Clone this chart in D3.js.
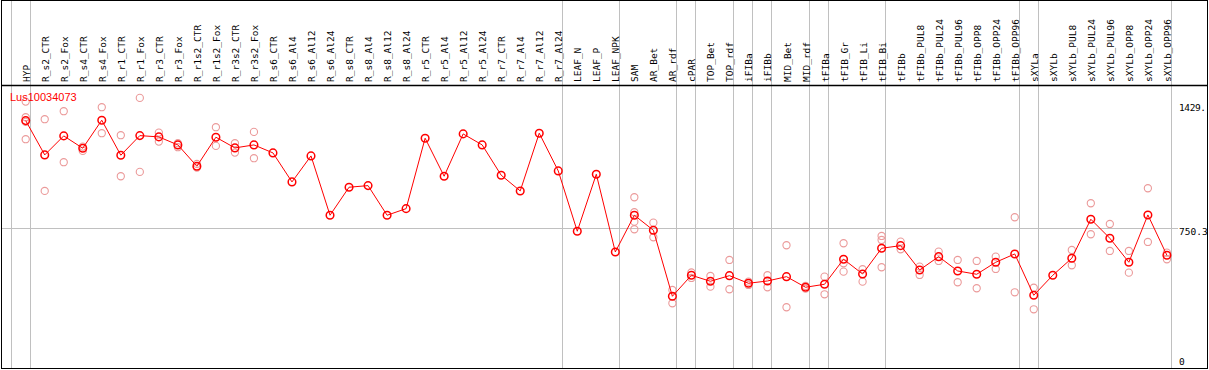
<!DOCTYPE html>
<html>
<head>
<meta charset="utf-8">
<script src="https://cdn.jsdelivr.net/npm/d3@7"></script>
<style>
  body { margin: 0; background: #fff; }
  svg { display: block; }
</style>
</head>
<body>
<div class="container"></div>
<script>
const title = "Lus10034073";

const categories = [
  "HYP", "R_s2_CTR", "R_s2_Fox", "R_s4_CTR", "R_s4_Fox", "R_r1_CTR", "R_r1_Fox",
  "R_r3_CTR", "R_r3_Fox", "R_r1s2_CTR", "R_r1s2_Fox", "R_r3s2_CTR", "R_r3s2_Fox",
  "R_s6_CTR", "R_s6_Al4", "R_s6_Al12", "R_s6_Al24", "R_s8_CTR", "R_s8_Al4",
  "R_s8_Al12", "R_s8_Al24", "R_r5_CTR", "R_r5_Al4", "R_r5_Al12", "R_r5_Al24",
  "R_r7_CTR", "R_r7_Al4", "R_r7_Al12", "R_r7_Al24", "LEAF_N", "LEAF_P", "LEAF_NPK",
  "SAM", "AR_Bet", "AR_rdf", "cPAR", "TOP_Bet", "TOP_rdf", "iFIBa", "iFIBb",
  "MID_Bet", "MID_rdf", "tFIBa", "tFIB_Gr", "tFIB_Li", "tFIB_Bi", "tFIBb",
  "tFIBb_PUL8", "tFIBb_PUL24", "tFIBb_PUL96", "tFIBb_OPP8", "tFIBb_OPP24", "tFIBb_OPP96",
  "sXYLa", "sXYLb", "sXYLb_PUL8", "sXYLb_PUL24", "sXYLb_PUL96", "sXYLb_OPP8",
  "sXYLb_OPP24", "sXYLb_OPP96"
];

// group dividers are drawn after these samples
const groupEnds = [
  "HYP", "R_r7_Al24", "LEAF_NPK", "AR_rdf", "cPAR", "TOP_rdf", "iFIBa", "iFIBb",
  "MID_rdf", "tFIBa", "tFIB_Bi", "tFIBb_OPP96", "sXYLa", "sXYLb_OPP96"
];

// mean expression per sample
const means = [
  1373.5, 1174.4, 1284.7, 1213.3, 1375.8, 1172.6, 1286.4, 1278.9, 1232.4, 1108.8,
  1277.1, 1215.0, 1232.4, 1186.0, 1017.7, 1168.6, 824.3, 986.9, 996.2, 824.3,
  862.7, 1271.3, 1050.7, 1296.3, 1232.4, 1056.5, 965.4, 1300.4, 1081.5, 731.5,
  1062.4, 611.3, 824.3, 737.3, 354.1, 476.0, 441.2, 473.7, 429.6, 442.9,
  467.9, 406.4, 423.8, 568.9, 483.6, 632.8, 647.9, 506.8, 584.0, 501.0,
  481.8, 551.5, 599.7, 359.9, 476.0, 574.7, 801.1, 690.8, 551.5, 826.1,
  592.1
];

// individual replicates: [sample, value]
const replicates = [
  ["HYP", 1483.8], ["HYP", 1393.2], ["HYP", 1366.0], ["HYP", 1265.5],
  ["R_s2_CTR", 1381.6], ["R_s2_CTR", 965.4],
  ["R_s2_Fox", 1428.1], ["R_s2_Fox", 1132.0],
  ["R_s4_CTR", 1222.6], ["R_s4_CTR", 1197.6],
  ["R_s4_Fox", 1451.3], ["R_s4_Fox", 1300.4],
  ["R_r1_CTR", 1288.8], ["R_r1_CTR", 1050.7],
  ["R_r1_Fox", 1505.3], ["R_r1_Fox", 1075.7],
  ["R_r3_CTR", 1303.9], ["R_r3_CTR", 1251.6],
  ["R_r3_Fox", 1242.3], ["R_r3_Fox", 1219.1],
  ["R_r1s2_CTR", 1122.1], ["R_r1s2_CTR", 1100.7],
  ["R_r1s2_Fox", 1335.2], ["R_r1s2_Fox", 1226.6],
  ["R_r3s2_CTR", 1242.3], ["R_r3s2_CTR", 1187.7],
  ["R_r3s2_Fox", 1307.9], ["R_r3s2_Fox", 1155.2],
  ["SAM", 928.8], ["SAM", 841.8], ["SAM", 787.2], ["SAM", 743.1],
  ["AR_Bet", 781.4], ["AR_Bet", 696.6],
  ["AR_rdf", 390.7], ["AR_rdf", 313.5],
  ["cPAR", 492.3], ["cPAR", 460.4],
  ["TOP_Bet", 472.0], ["TOP_Bet", 409.8],
  ["TOP_rdf", 564.8], ["TOP_rdf", 394.8],
  ["iFIBa", 438.9], ["iFIBa", 419.7],
  ["iFIBb", 476.0], ["iFIBb", 406.4],
  ["MID_Bet", 650.2], ["MID_Bet", 290.3],
  ["MID_rdf", 413.9], ["MID_rdf", 398.2],
  ["tFIBa", 467.9], ["tFIBa", 365.7],
  ["tFIB_Gr", 661.8], ["tFIB_Gr", 545.7], ["tFIB_Gr", 496.9],
  ["tFIB_Li", 510.9], ["tFIB_Li", 438.9],
  ["tFIB_Bi", 704.2], ["tFIB_Bi", 681.0], ["tFIB_Bi", 522.5],
  ["tFIBb", 671.1], ["tFIBb", 627.0],
  ["tFIBb_PUL8", 526.0], ["tFIBb_PUL8", 477.8],
  ["tFIBb_PUL24", 613.0], ["tFIBb_PUL24", 559.0],
  ["tFIBb_PUL96", 564.8], ["tFIBb_PUL96", 435.4],
  ["tFIBb_OPP8", 559.0], ["tFIBb_OPP8", 400.6],
  ["tFIBb_OPP24", 584.0], ["tFIBb_OPP24", 512.6],
  ["tFIBb_OPP96", 812.7], ["tFIBb_OPP96", 377.3],
  ["sXYLa", 404.0], ["sXYLa", 278.6],
  ["sXYLb_PUL8", 622.9], ["sXYLb_PUL8", 534.1],
  ["sXYLb_PUL24", 894.0], ["sXYLb_PUL24", 714.0],
  ["sXYLb_PUL96", 773.8], ["sXYLb_PUL96", 617.1],
  ["sXYLb_OPP8", 617.1], ["sXYLb_OPP8", 491.1],
  ["sXYLb_OPP24", 981.1], ["sXYLb_OPP24", 669.3],
  ["sXYLb_OPP96", 607.2], ["sXYLb_OPP96", 568.9]
];

const tickValues = [0, 750.3, 1429.1];
const tickLabels = ["0", "750.3", "1429."];

const width = 1209;
const height = 370;
const headerH = 85;
const gridColor = "#c0c0c0";
const red = "#ff0000";
const pink = "#eb9a9a";

let svg = d3.select(".container")
  .append("svg")
  .attr("width", width)
  .attr("height", height);

const x = d3.scaleBand()
  .domain(categories)
  .range([10.5, 10.5 + categories.length * 19.02])
  .padding(0);
const px = d => x(d) + 15.2;

const y = d3.scaleLinear()
  .domain([0, 750.3])
  .range([357.3, 228]);

// dividers between sample groups
svg.append("g")
  .selectAll("line")
  .data([categories[0]].concat(groupEnds))
  .enter()
  .append("line")
  .attr("x1", (d, i) => Math.round(i === 0 ? x(d) : x(d) + x.bandwidth()) + 0.5)
  .attr("x2", (d, i) => Math.round(i === 0 ? x(d) : x(d) + x.bandwidth()) + 0.5)
  .attr("y1", 0)
  .attr("y2", 369)
  .attr("stroke", gridColor)
  .attr("stroke-width", 1);

// middle grid line
svg.append("line")
  .attr("x1", 1)
  .attr("x2", 1178)
  .attr("y1", Math.round(y(750.3)) + 0.5)
  .attr("y2", Math.round(y(750.3)) + 0.5)
  .attr("stroke", gridColor);

// sample labels
svg.append("g")
  .selectAll("text")
  .data(categories)
  .enter()
  .append("text")
  .attr("transform", d => "translate(" + (px(d) + 4) + "," + 82 + ") rotate(-90)")
  .attr("font-family", "DejaVu Sans Mono, monospace")
  .attr("font-size", "9.5px")
  .attr("fill", "#000")
  .text(d => d);

// right axis labels
let axis = svg.append("g")
  .attr("transform", "translate(1179,0)");
axis.selectAll("text")
  .data(tickValues)
  .enter()
  .append("text")
  .attr("x", 0)
  .attr("y", d => y(d))
  .attr("dy", (d, i) => (i === tickValues.length - 1 ? "-0.05em" : "0.78em"))
  .attr("font-family", "DejaVu Sans Mono, monospace")
  .attr("font-size", "9.5px")
  .attr("textLength", (d, i) => (i === tickValues.length - 1 ? 27 : null))
  .attr("fill", "#000")
  .text((d, i) => tickLabels[i]);

let plot = svg.append("g");

// replicates
plot.append("g")
  .selectAll("circle")
  .data(replicates)
  .enter()
  .append("circle")
  .attr("cx", d => px(d[0]))
  .attr("cy", d => y(d[1]))
  .attr("r", 3.6)
  .attr("fill", "none")
  .attr("stroke", pink)
  .attr("stroke-width", 1.1);

// mean line
const line = d3.line()
  .x((d, i) => px(categories[i]))
  .y(d => y(d));

plot.append("path")
  .datum(means)
  .attr("d", line)
  .attr("fill", "none")
  .attr("stroke", red)
  .attr("stroke-width", 1);

plot.append("g")
  .selectAll("circle")
  .data(means)
  .enter()
  .append("circle")
  .attr("cx", (d, i) => px(categories[i]))
  .attr("cy", d => y(d))
  .attr("r", 3.8)
  .attr("fill", "none")
  .attr("stroke", red)
  .attr("stroke-width", 1.5);

// title
svg.append("text")
  .attr("x", 10)
  .attr("y", 101)
  .attr("font-family", "Liberation Sans, Arial, sans-serif")
  .attr("font-size", "11px")
  .attr("fill", red)
  .text(title);

// frame
svg.append("rect")
  .attr("x", 1.5)
  .attr("y", 0.5)
  .attr("width", 1206)
  .attr("height", 368)
  .attr("fill", "none")
  .attr("stroke", "#000");

svg.append("line")
  .attr("x1", 1).attr("x2", 1208)
  .attr("y1", headerH + 0.5).attr("y2", headerH + 0.5)
  .attr("stroke", "#000")
  .attr("stroke-width", 1.5);
</script>
</body>
</html>
